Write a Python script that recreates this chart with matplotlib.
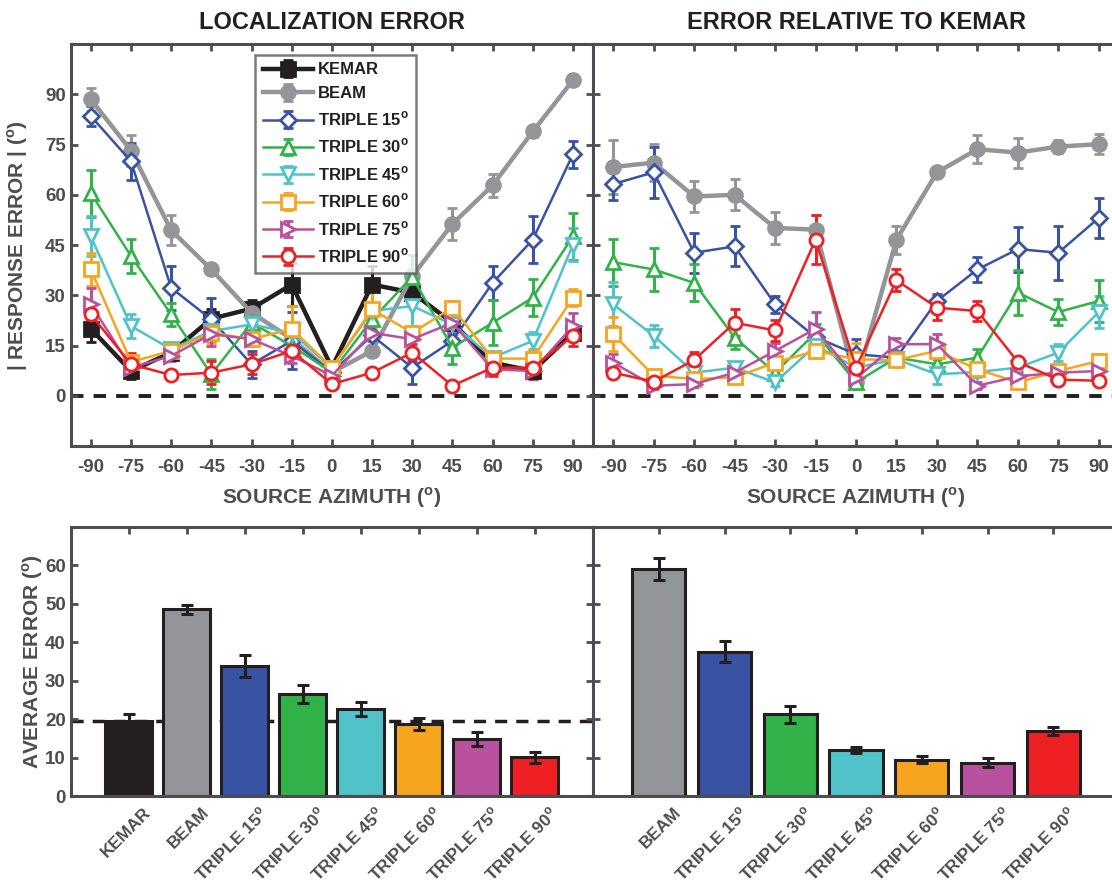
import numpy as np
import matplotlib
matplotlib.use("Agg")
import matplotlib.pyplot as plt
import matplotlib.transforms as mtransforms

# ── Fonts ─────────────────────────────────────────────────────────────────────
plt.rcParams["font.family"] = ["Liberation Sans", "DejaVu Sans"]
plt.rcParams["font.weight"] = "bold"
plt.rcParams["mathtext.fontset"] = "custom"
plt.rcParams["mathtext.rm"] = "Liberation Sans:bold"
plt.rcParams["mathtext.bf"] = "Liberation Sans:bold"
plt.rcParams["axes.unicode_minus"] = False

DEG = r"$^\mathrm{o}$"

# ── Data ──────────────────────────────────────────────────────────────────────
azimuth = [-90, -75, -60, -45, -30, -15, 0, 15, 30, 45, 60, 75, 90]

# localization error (absolute)
kemar     = [20.0, 7.4, 12.9, 23.0, 26.0, 33.2, 8.4, 33.2, 30.8, 21.8, 9.9, 7.4, 18.8]
kemar_err = [3.8, 2.5, 2.0, 3.0, 2.5, 6.4, 1.5, 5.5, 2.0, 2.0, 1.5, 2.0, 2.0]
beam      = [88.5, 73.2, 49.4, 37.7, 24.8, 17.0, 7.0, 13.4, 35.7, 51.3, 62.8, 78.9, 94.2]
beam_err  = [3.5, 4.7, 4.5, 1.2, 2.0, 1.5, 1.0, 1.5, 2.0, 4.7, 3.5, 1.5, 1.0]
t15       = [83.5, 70.0, 32.2, 22.8, 9.4, 16.4, 7.0, 18.0, 8.4, 16.4, 33.7, 46.6, 72.1]
t15_err   = [3.0, 5.5, 6.5, 6.4, 4.0, 8.5, 1.5, 3.0, 5.0, 2.0, 5.0, 7.0, 4.0]
t30       = [60.5, 41.7, 24.3, 6.4, 21.8, 14.9, 7.0, 22.8, 35.5, 14.4, 21.8, 29.3, 47.6]
t30_err   = [7.0, 5.0, 3.5, 4.5, 2.5, 2.0, 1.5, 3.0, 6.5, 5.0, 6.7, 5.5, 7.0]
t45       = [47.6, 20.8, 13.9, 19.3, 21.3, 18.8, 8.4, 25.3, 26.8, 21.3, 11.4, 16.4, 45.1]
t45_err   = [6.0, 3.5, 1.5, 2.5, 3.0, 2.0, 1.5, 2.5, 6.0, 2.0, 1.5, 2.5, 5.0]
t60       = [37.7, 10.1, 13.4, 18.8, 16.9, 20.0, 8.4, 25.8, 18.8, 26.3, 11.1, 11.1, 29.3]
t60_err   = [5.0, 2.5, 2.5, 3.0, 2.0, 6.7, 1.5, 6.0, 2.0, 2.0, 1.5, 2.7, 2.5]
t75       = [27.3, 8.4, 11.9, 18.4, 16.9, 11.9, 6.0, 18.8, 16.9, 21.8, 7.9, 7.4, 20.8]
t75_err   = [5.0, 1.5, 1.5, 3.5, 2.0, 2.0, 1.0, 2.5, 3.5, 3.0, 1.5, 1.5, 4.0]
t90       = [24.3, 9.4, 6.2, 6.9, 9.4, 13.4, 3.5, 6.9, 12.9, 3.0, 8.4, 8.4, 17.9]
t90_err   = [3.0, 3.5, 1.0, 3.5, 3.0, 2.0, 1.0, 1.0, 2.5, 1.0, 2.5, 3.5, 3.0]

# error relative to KEMAR
r_beam     = [68.3, 69.6, 59.5, 60.0, 50.1, 49.6, 4.0, 46.6, 66.7, 73.6, 72.6, 74.4, 75.1]
r_beam_err = [8.0, 5.6, 4.6, 4.6, 4.7, 4.5, 1.0, 4.2, 1.0, 4.2, 4.5, 2.0, 3.0]
r_t15      = [63.2, 66.7, 42.7, 44.6, 27.3, 17.5, 12.4, 11.4, 28.3, 37.7, 43.8, 42.7, 53.1]
r_t15_err  = [4.7, 7.7, 5.9, 6.0, 2.5, 2.0, 4.5, 1.5, 2.0, 3.7, 6.7, 8.0, 6.0]
r_t30      = [39.9, 37.7, 33.7, 17.4, 6.9, 18.8, 4.0, 11.4, 9.4, 11.4, 30.8, 25.0, 28.3]
r_t30_err  = [7.0, 6.4, 5.5, 3.5, 1.5, 2.5, 1.0, 1.5, 1.5, 2.5, 6.8, 4.0, 6.4]
r_t45      = [27.3, 17.9, 6.9, 8.4, 4.0, 15.0, 8.4, 10.9, 6.4, 7.1, 8.4, 12.9, 25.0]
r_t45_err  = [6.6, 3.2, 1.0, 1.5, 1.0, 2.0, 1.5, 1.5, 3.0, 1.5, 1.5, 2.5, 4.7]
r_t60      = [18.4, 6.0, 5.0, 5.5, 9.9, 13.4, 10.9, 10.7, 13.4, 7.9, 4.0, 7.4, 10.4]
r_t60_err  = [5.0, 1.5, 1.0, 1.0, 1.5, 2.0, 5.0, 1.5, 1.5, 2.0, 1.5, 1.5, 2.0]
r_t75      = [9.9, 3.0, 3.5, 6.9, 13.4, 20.0, 5.2, 15.4, 15.4, 3.0, 5.8, 6.9, 7.4]
r_t75_err  = [2.5, 1.0, 1.0, 1.5, 2.5, 5.0, 1.5, 2.0, 3.0, 1.0, 1.5, 1.5, 1.5]
r_t90      = [6.9, 4.2, 10.7, 21.8, 19.5, 46.6, 8.4, 34.5, 26.3, 25.3, 10.1, 4.8, 4.5]
r_t90_err  = [1.0, 1.0, 2.5, 4.0, 3.0, 7.4, 4.0, 3.2, 3.8, 3.0, 1.0, 1.0, 1.0]

# averages
conditions = ["KEMAR", "BEAM", "TRIPLE 15", "TRIPLE 30", "TRIPLE 45",
              "TRIPLE 60", "TRIPLE 75", "TRIPLE 90"]
avg_err     = [19.5, 48.6, 33.9, 26.6, 22.6, 18.7, 14.8, 10.1]
avg_err_sem = [1.9, 1.2, 2.8, 2.4, 1.8, 1.6, 1.8, 1.4]
rel_err     = [59.1, 37.6, 21.3, 12.0, 9.4, 8.7, 17.0]
rel_err_sem = [2.9, 2.8, 2.2, 0.8, 0.9, 1.1, 1.0]

# ── Styles ────────────────────────────────────────────────────────────────────
colors = {
    "KEMAR": "#231f20", "BEAM": "#939598", "TRIPLE 15": "#3953a4",
    "TRIPLE 30": "#32b34a", "TRIPLE 45": "#4fc3c9", "TRIPLE 60": "#f7a51e",
    "TRIPLE 75": "#b9519e", "TRIPLE 90": "#ee2024",
}
markers = {
    "KEMAR": "s", "BEAM": "o", "TRIPLE 15": "D", "TRIPLE 30": "^",
    "TRIPLE 45": "v", "TRIPLE 60": "s", "TRIPLE 75": ">", "TRIPLE 90": "o",
}
AXC = "#4d4d4f"
TXT = "#4d4d4f"
TICK_FS = 13.5
LABEL_FS = 15


def label(name):
    return name + DEG if name.startswith("TRIPLE") else name


def style_axes(ax):
    for s in ax.spines.values():
        s.set_linewidth(2.2)
        s.set_color(AXC)
    ax.tick_params(direction="in", length=5, width=2.0, color=AXC,
                   top=True, right=True, labelcolor=TXT, labelsize=TICK_FS)
    for t in ax.get_xticklabels() + ax.get_yticklabels():
        t.set_fontweight("bold")


def draw_lines(ax, series):
    for name, y, e in series:
        c = colors[name]
        filled = name in ("KEMAR", "BEAM")
        ax.errorbar(azimuth, y, yerr=e, color=c, ecolor=c,
                    marker=markers[name],
                    ms=10 if filled else (8 if markers[name] == "D" else 9.5),
                    mfc=c if filled else "white", mec=c, mew=2.0,
                    lw=3.2 if filled else 1.8, elinewidth=2.2,
                    capsize=3.5, capthick=2.2, label=label(name))
    ax.axhline(0, color="#231f20", lw=2.8, ls=(0, (3.2, 2.6)), zorder=0)
    ax.set_xlim(-97.5, 97.5)
    ax.set_ylim(-15, 105)
    ax.set_xticks(azimuth)
    ax.set_yticks(range(0, 91, 15))
    ax.set_xlabel("SOURCE AZIMUTH (" + DEG + ")", fontsize=LABEL_FS,
                  fontweight="bold", color=TXT, labelpad=7)
    style_axes(ax)
    ax.tick_params(axis="x", pad=9)


def draw_bars(ax, names, vals, sems):
    x = np.arange(1, len(names) + 1)
    ax.bar(x, vals, width=0.81, color=[colors[n] for n in names],
           edgecolor="#231f20", linewidth=2.2, zorder=2)
    ax.errorbar(x, vals, yerr=sems, fmt="none", ecolor="#231f20",
                elinewidth=2.2, capsize=4.5, capthick=2.2, zorder=3)
    ax.set_xlim(0, len(names) + 1)
    ax.set_ylim(0, 70)
    ax.set_xticks(x)
    ax.set_yticks(range(0, 61, 10))
    style_axes(ax)
    ax.set_xticklabels([label(n) for n in names], rotation=45, ha="right",
                       va="center", rotation_mode="anchor", fontsize=12.5,
                       fontweight="bold", color=TXT)
    ax.tick_params(axis="x", pad=10)
    shift = mtransforms.ScaledTranslation(0.2, 0.0, ax.figure.dpi_scale_trans)
    for t in ax.get_xticklabels():
        t.set_transform(t.get_transform() + shift)


# ── Figure ────────────────────────────────────────────────────────────────────
fig = plt.figure(figsize=(11.12, 8.88), dpi=100)
ax_tl = fig.add_axes([0.0636, 0.4977, 0.4697, 0.4527])
ax_tr = fig.add_axes([0.5333, 0.4977, 0.4730, 0.4527])
ax_bl = fig.add_axes([0.0636, 0.1036, 0.4697, 0.3029])
ax_br = fig.add_axes([0.5333, 0.1036, 0.4730, 0.3029])

draw_lines(ax_tl, [
    ("KEMAR", kemar, kemar_err), ("BEAM", beam, beam_err),
    ("TRIPLE 15", t15, t15_err), ("TRIPLE 30", t30, t30_err),
    ("TRIPLE 45", t45, t45_err), ("TRIPLE 60", t60, t60_err),
    ("TRIPLE 75", t75, t75_err), ("TRIPLE 90", t90, t90_err),
])
draw_lines(ax_tr, [
    ("BEAM", r_beam, r_beam_err),
    ("TRIPLE 15", r_t15, r_t15_err), ("TRIPLE 30", r_t30, r_t30_err),
    ("TRIPLE 45", r_t45, r_t45_err), ("TRIPLE 60", r_t60, r_t60_err),
    ("TRIPLE 75", r_t75, r_t75_err), ("TRIPLE 90", r_t90, r_t90_err),
])
ax_tr.set_yticklabels([])

ax_tl.set_ylabel("| RESPONSE ERROR | (" + DEG + ")", fontsize=LABEL_FS,
                 fontweight="bold", color=TXT)
ax_tl.yaxis.set_label_coords(-0.078, 0.5)

ax_tl.set_title("LOCALIZATION ERROR", fontsize=17, fontweight="bold",
                color="#231f20", pad=11)
ax_tr.set_title("ERROR RELATIVE TO KEMAR", fontsize=17, fontweight="bold",
                color="#231f20", pad=11)

leg = ax_tl.legend(loc="upper left", bbox_to_anchor=(0.353, 0.973),
                   borderaxespad=0, handlelength=3.0, handletextpad=0.3,
                   labelspacing=0.52, fontsize=12, frameon=True,
                   fancybox=False, borderpad=0.45)
leg.get_frame().set_edgecolor("#58595b")
leg.get_frame().set_linewidth(1.8)
for t in leg.get_texts():
    t.set_fontweight("bold")
    t.set_color("#231f20")

# bar panels
ax_bl.axhline(avg_err[0], color="#231f20", lw=2.5, ls=(0, (3.5, 2.6)),
              zorder=1)
draw_bars(ax_bl, conditions, avg_err, avg_err_sem)
draw_bars(ax_br, conditions[1:], rel_err, rel_err_sem)
ax_br.set_yticklabels([])
ax_bl.set_ylabel("AVERAGE ERROR (" + DEG + ")", fontsize=LABEL_FS,
                 fontweight="bold", color=TXT)
ax_bl.yaxis.set_label_coords(-0.05, 0.5)

fig.savefig("out.png", dpi=100)
